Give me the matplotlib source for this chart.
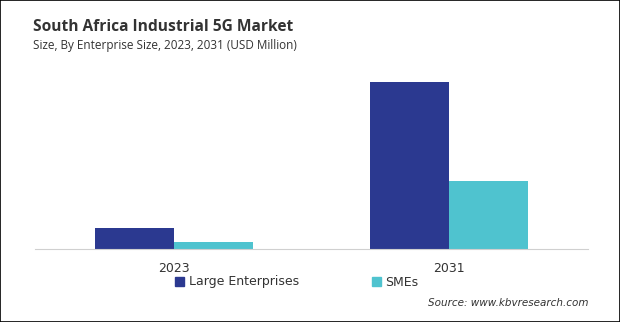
import numpy as np
import matplotlib.pyplot as plt
from matplotlib.patches import Rectangle, Patch

years = ['2023', '2031']
large_enterprises = [12.6, 100.0]
smes = [4.2, 40.7]
series_names = ['Large Enterprises', 'SMEs']
colors = ['#2B3990', '#4FC3CF']

fig = plt.figure(figsize=(6.2, 3.22), dpi=100)
ax = fig.add_axes([35/620, 73/322, 553/620, 174/322])

x = np.arange(len(years))
w = 0.287
ax.bar(x - w/2, large_enterprises, w, color=colors[0])
ax.bar(x + w/2, smes, w, color=colors[1])

ax.set_xlim(-0.505, 1.505)
ax.set_ylim(0, 104)
ax.set_xticks(x)
ax.set_xticklabels(years, fontsize=9, color='#333333')
ax.tick_params(axis='x', length=0, pad=9)
ax.set_yticks([])
for s in ['top', 'left', 'right']:
    ax.spines[s].set_visible(False)
ax.spines['bottom'].set_color('#d0d0d0')

fig.text(33/620, 1 - 27/322, 'South Africa Industrial 5G Market', fontsize=11.2,
         fontweight='bold', color='#333333', va='center', family='Open Sans')
fig.text(33/620, 1 - 46/322, 'Size, By Enterprise Size, 2023, 2031 (USD Million)', fontsize=8.5,
         color='#333333', va='center', family='Open Sans')

handles = [Patch(color=c, label=n) for c, n in zip(colors, series_names)]
fig.legend(handles=handles, loc='center', bbox_to_anchor=(297/620, 1 - 282/322), ncol=2,
           frameon=False, fontsize=9, handlelength=0.7, handleheight=0.7,
           handletextpad=0.4, columnspacing=5.8, labelcolor='#333333')

fig.text(588/620, 1 - 303/322, 'Source: www.kbvresearch.com', fontsize=7.5,
         style='italic', color='#333333', ha='right', va='center')

fig.patches.append(Rectangle((0, 0), 1, 1, transform=fig.transFigure, fill=False,
                             edgecolor='black', linewidth=1.2))

plt.savefig('out.png', dpi=100)
plt.close()
